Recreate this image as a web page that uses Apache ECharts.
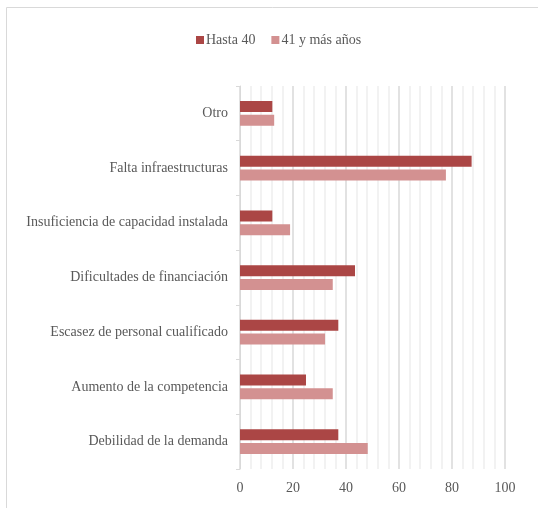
<!DOCTYPE html>
<html><head><meta charset="utf-8">
<script src="https://cdn.jsdelivr.net/npm/echarts@6/dist/echarts.min.js"></script>
<style>html,body{margin:0;padding:0;background:#fff}#c{width:538px;height:508px}</style>
</head><body><div id="c"></div>
<script>
const categories = ['Otro','Falta infraestructuras','Insuficiencia de capacidad instalada','Dificultades de financiación','Escasez de personal cualificado','Aumento de la competencia','Debilidad de la demanda'];
const seriesNames = ['Hasta 40','41 y más años'];
const hasta40 = [12.2, 87.4, 12.2, 43.4, 37.1, 24.9, 37.1];
const mas41 = [12.9, 77.7, 18.9, 35.0, 32.1, 35.0, 48.2];
const xTicks = [0,20,40,60,80,100];

const font = '"Liberation Serif", "DejaVu Serif", serif';
const chart = echarts.init(document.getElementById('c'), null, {renderer:'canvas'});
chart.setOption({
  animation:false,
  textStyle:{fontFamily:font},
  graphic:[{type:'rect',shape:{x:6.5,y:7.5,width:600,height:600},style:{fill:'none',stroke:'#d9d9d9',lineWidth:1}}],
  legend:{data:seriesNames,top:28,left:191,itemWidth:8,itemHeight:8,itemGap:16,icon:'rect',
    textStyle:{fontFamily:font,fontSize:14,color:'#595959',padding:[0,0,0,-3]}},
  grid:{left:240,right:33,top:86,bottom:39},
  xAxis:{type:'value',min:0,max:100,interval:20,
    axisLine:{show:false},axisTick:{show:false},
    axisLabel:{color:'#595959',fontSize:14,fontFamily:font,margin:12,
      formatter:function(v){return xTicks.indexOf(v)>=0?String(v):'';}},
    splitLine:{show:true,lineStyle:{color:'#d9d9d9',width:1.5}},
    minorTick:{show:false,splitNumber:5},
    minorSplitLine:{show:true,lineStyle:{color:'#eeeeee',width:1.5}}},
  yAxis:{type:'category',data:categories,inverse:true,
    axisLine:{show:true,lineStyle:{color:'#d9d9d9',width:1}},
    axisTick:{show:true,length:4,lineStyle:{color:'#d9d9d9'}},
    axisLabel:{color:'#595959',fontSize:14,fontFamily:font,margin:12}},
  series:[
    {name:seriesNames[0],type:'bar',data:hasta40,barWidth:11,barGap:'25%',itemStyle:{color:'#ab4645'}},
    {name:seriesNames[1],type:'bar',data:mas41,barWidth:11,itemStyle:{color:'#d39191'}}
  ]
});
</script></body></html>
